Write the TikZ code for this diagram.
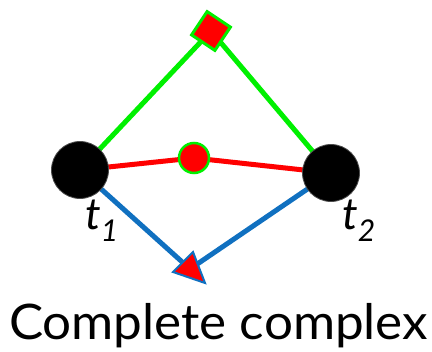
\documentclass[tikz,border=0pt]{standalone}
\usepackage{fontspec}
\setmainfont{Lato}
\definecolor{lgreen}{RGB}{0,240,0}
\definecolor{lred}{RGB}{255,0,0}
\definecolor{lblue}{RGB}{16,112,192}
\tikzset{
  vertexdot/.style={circle,fill=black,draw=black!70,line width=0.8,minimum size=57,inner sep=0},
  greenedge/.style={draw=lgreen,line width=5},
  rededge/.style={draw=lred,line width=5},
  blueedge/.style={draw=lblue,line width=5},
  lbl/.style={anchor=base west,inner sep=0,font=\fontsize{44}{44}\selectfont\itshape},
}
\begin{document}
\begin{tikzpicture}[x=1pt,y=-1pt]
\useasboundingbox (0,0) rectangle (432,352);
\coordinate (c1) at (80,170);
\coordinate (c2) at (331,173);
\coordinate (cm) at (194,158);
\coordinate (cd) at (211,31);
\coordinate (ct) at (190,269);
\draw[greenedge] (c1) -- (cd) -- (c2);
\draw[rededge] (c1) -- (cm) -- (c2);
\draw[blueedge] (c1) -- (ct);
\draw[blueedge] (c2) -- (ct);
\node[vertexdot] (t1) at (c1) {};
\node[vertexdot] (t2) at (c2) {};
\node[circle,fill=lred,draw=lgreen,line width=2.5,minimum size=30,inner sep=0] (m) at (cm) {};
\node[rectangle,fill=lred,draw=lgreen,line width=3,minimum size=28,inner sep=0,rotate=-33.6] (d) at (cd) {};
\filldraw[fill=lred,draw=lblue,line width=2,line join=miter] (193,252) -- (173,272) -- (205,283) -- cycle;
\node[lbl] (l1) at (85,230) {t\raisebox{-12pt}{\fontsize{30}{30}\selectfont 1}};
\node[lbl] (l2) at (342,230) {t\raisebox{-12pt}{\fontsize{30}{30}\selectfont 2}};
\node[anchor=base,inner sep=0,font=\fontsize{49}{49}\selectfont] (title) at (218.5,340) {\scalebox{1.045}[1]{Complete complex}};
\end{tikzpicture}
\end{document}
